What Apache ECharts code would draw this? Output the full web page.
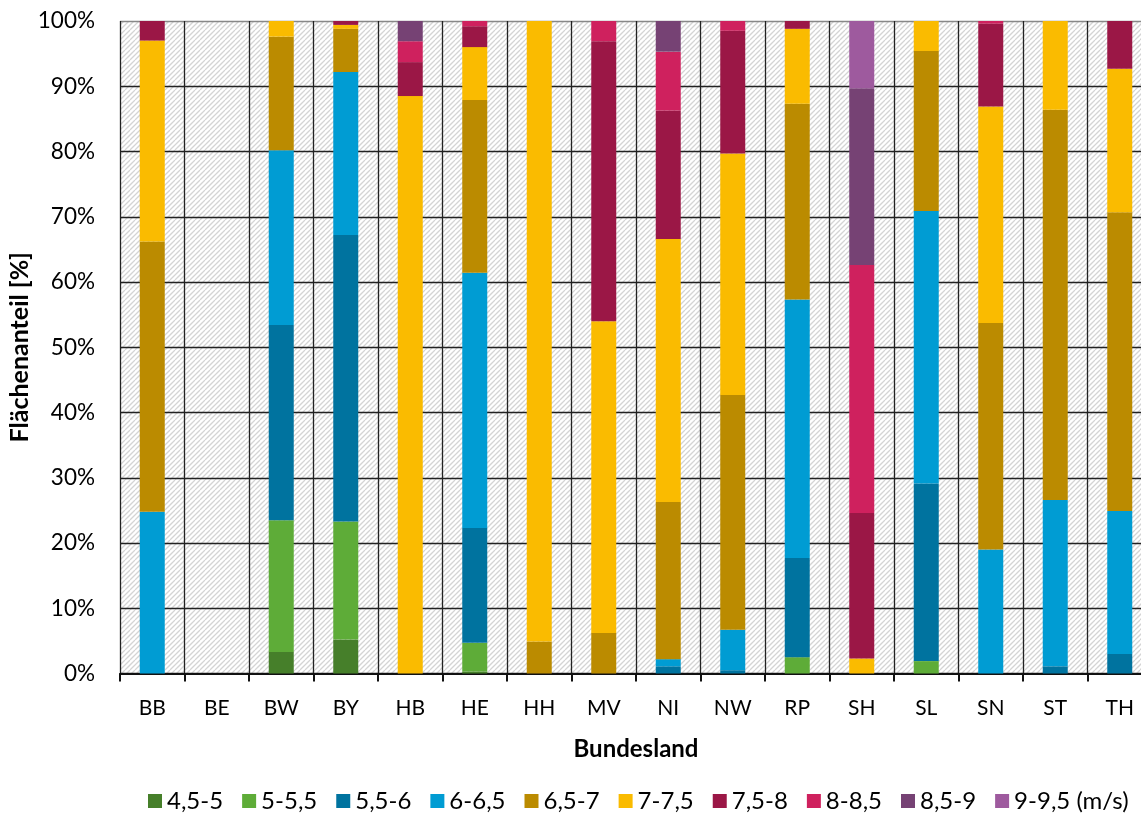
<!DOCTYPE html>
<html>
<head>
<meta charset="utf-8">
<script src="https://cdn.jsdelivr.net/npm/echarts@6/dist/echarts.min.js"></script>
<style>
  html, body { margin: 0; padding: 0; background: #fff; }
  #chart { width: 1141px; height: 819px; }
</style>
</head>
<body>
<div id="chart"></div>
<script>
// Federal states (Bundesländer)
const categories = ['BB', 'BE', 'BW', 'BY', 'HB', 'HE', 'HH', 'MV', 'NI', 'NW', 'RP', 'SH', 'SL', 'SN', 'ST', 'TH'];

// Wind speed classes (m/s)
const classNames = ['4,5-5', '5-5,5', '5,5-6', '6-6,5', '6,5-7', '7-7,5', '7,5-8', '8-8,5', '8,5-9', '9-9,5 (m/s)'];

// Area share per class in percent, one value per state
//                 BB    BE   BW    BY    HB    HE    HH    MV    NI    NW    RP    SH    SL    SN    ST    TH
const ws_45_5   = [0,    0,   3.3,  5.2,  0,    0.3,  0,    0,    0,    0,    0,    0,    0,    0,    0,    0];
const ws_5_55   = [0,    0,   20.2, 18.1, 0,    4.4,  0,    0,    0,    0,    2.5,  0,    1.9,  0,    0,    0];
const ws_55_6   = [0,    0,   29.9, 43.9, 0,    17.6, 0,    0,    1.1,  0.5,  15.2, 0,    27.2, 0,    1.1,  3.0];
const ws_6_65   = [24.8, 0,   26.8, 25.0, 0,    39.1, 0,    0,    1.1,  6.2,  39.6, 0,    41.8, 19.0, 25.5, 21.9];
const ws_65_7   = [41.4, 0,   17.4, 6.6,  0,    26.5, 4.9,  6.2,  24.1, 36.0, 30.0, 0,    24.5, 34.7, 59.8, 45.8];
const ws_7_75   = [30.8, 0,   2.4,  0.6,  88.5, 8.1,  95.1, 47.8, 40.3, 37.0, 11.5, 2.3,  4.6,  33.2, 13.6, 22.0];
const ws_75_8   = [3.0,  0,   0,    0.6,  5.2,  3.2,  0,    42.9, 19.7, 18.8, 1.2,  22.3, 0,    12.7, 0,    7.3];
const ws_8_85   = [0,    0,   0,    0,    3.2,  0.8,  0,    3.1,  9.0,  1.5,  0,    38.0, 0,    0.4,  0,    0];
const ws_85_9   = [0,    0,   0,    0,    3.1,  0,    0,    0,    4.7,  0,    0,    27.1, 0,    0,    0,    0];
const ws_9_95   = [0,    0,   0,    0,    0,    0,    0,    0,    0,    0,    0,    10.3, 0,    0,    0,    0];

const classValues = [ws_45_5, ws_5_55, ws_55_6, ws_6_65, ws_65_7, ws_7_75, ws_75_8, ws_8_85, ws_85_9, ws_9_95];
const classColors = ['#467f2a', '#5eac38', '#00739f', '#009cd3', '#bb8b00', '#fabb00', '#9b1746', '#cf215e', '#764274', '#9e5a9e'];

// Diagonal hatch used as plot background
function hatchPattern() {
  const s = 10;
  const c = document.createElement('canvas');
  c.width = s; c.height = s;
  const g = c.getContext('2d');
  g.fillStyle = '#ffffff';
  g.fillRect(0, 0, s, s);
  g.strokeStyle = '#d4d4d4';
  g.lineWidth = 1.25;
  for (let k = -10; k <= 20; k += 5) {
    g.beginPath();
    g.moveTo(k, s);
    g.lineTo(k + s, 0);
    g.stroke();
  }
  return c;
}

const fontFamily = 'Lato, "Open Sans", sans-serif';
const chart = echarts.init(document.getElementById('chart'), null, { renderer: 'canvas' });

const gridLineColors = ['#222', '#222', '#222', '#222', '#222', '#222', '#222', '#222', '#222', '#222', '#888'];

chart.setOption({
  animation: false,
  textStyle: { fontFamily: fontFamily, color: '#000' },
  grid: {
    left: 120,
    right: -11,
    top: 21,
    bottom: 145.5,
    outerBoundsMode: 'none',
    show: true,
    borderWidth: 0,
    backgroundColor: { image: hatchPattern(), repeat: 'repeat' }
  },
  legend: {
    bottom: 1,
    left: 143,
    icon: 'rect',
    itemWidth: 14,
    itemHeight: 14,
    itemGap: 19,
    textStyle: { fontSize: 24, color: '#000', fontFamily: fontFamily },
    data: classNames
  },
  xAxis: {
    type: 'category',
    data: categories,
    name: 'Bundesland',
    nameLocation: 'middle',
    nameGap: 64,
    nameTextStyle: { fontSize: 24, fontWeight: 'bold', color: '#000' },
    axisLine: { lineStyle: { color: '#111', width: 2.2 } },
    axisTick: { show: true, length: 8, lineStyle: { color: '#111', width: 2 } },
    axisLabel: { fontSize: 21, color: '#000', margin: 24 },
    splitLine: { show: true, interval: 0, lineStyle: { color: '#222', width: 1.3 } }
  },
  yAxis: {
    type: 'value',
    min: 0,
    max: 100,
    interval: 10,
    name: 'Flächenanteil [%]',
    nameLocation: 'middle',
    nameGap: 88,
    nameMoveOverlap: false,
    nameRotate: 90,
    nameTextStyle: { fontSize: 25, fontWeight: 'bold', color: '#000' },
    axisLine: { show: false },
    axisTick: { show: false },
    axisLabel: { fontSize: 22.5, color: '#000', margin: 25, formatter: '{value}%' },
    splitLine: { show: true, lineStyle: { color: gridLineColors, width: 1.3 } }
  },
  series: classNames.map((name, i) => ({
    name: name,
    type: 'bar',
    stack: 'share',
    barWidth: 25,
    itemStyle: { color: classColors[i] },
    emphasis: { disabled: true },
    data: classValues[i]
  }))
});
</script>
</body>
</html>
